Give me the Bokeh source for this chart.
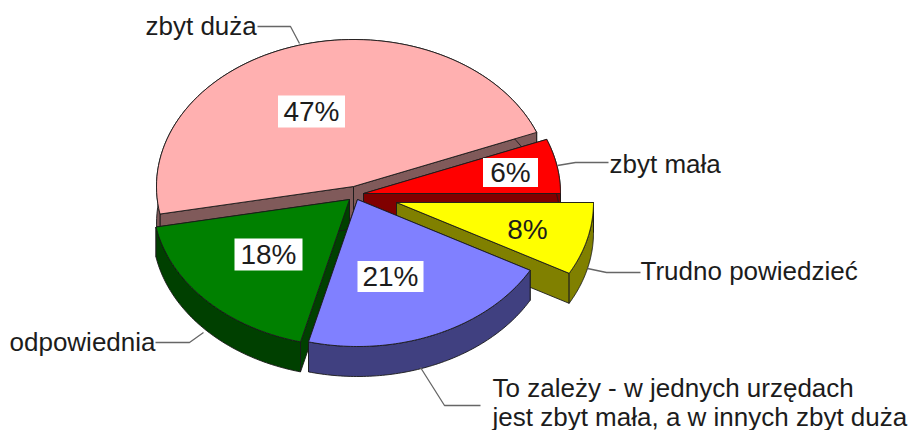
import math
from bokeh.plotting import figure
from bokeh.models import Range1d
from bokeh.core.properties import value
from bokeh.embed import file_html
from bokeh.resources import INLINE

# --- data -----------------------------------------------------------------
slices = ["zbyt mała", "Trudno powiedzieć", "To zależy", "odpowiednia", "zbyt duża"]
values = [6, 8, 21, 18, 47]

# --- style ----------------------------------------------------------------
top_colors = ["#FF0000", "#FFFF00", "#8080FF", "#008000", "#FFB0B0"]
side_colors = ["#800000", "#808000", "#404080", "#004000", "#805A5A"]
apex_x = [363, 396, 357, 349, 353]
apex_y = [193, 202, 199, 199, 186]
depths = [30, 30, 30, 30, 37]
draw_order = [4, 0, 1, 3, 2]
START_DEG = 21.6
RX, RY = 197, 147
EDGE = "#1a1a1a"
FONT = value("Liberation Sans")
TXT = "#1c1c1c"

p = figure(width=908, height=430, x_range=Range1d(0, 908), y_range=Range1d(430, 0),
           toolbar_location=None, output_backend="svg", min_border=0,
           outline_line_color=None, background_fill_color="white")
p.axis.visible = False
p.grid.visible = False

# slice angles from the values
bounds = [START_DEG]
for v in values:
    bounds.append(bounds[-1] - v / sum(values) * 360)


def arc(cx, cy, a0, a1, dy=0, n=80):
    pts = []
    for i in range(n + 1):
        a = math.radians(a0 + (a1 - a0) * i / n)
        pts.append((cx + RX * math.cos(a), cy - RY * math.sin(a) + dy))
    return pts


def poly(pts, fill):
    p.patch([q[0] for q in pts], [q[1] for q in pts], fill_color=fill,
            line_color=EDGE, line_width=0.9, line_join="round")


for i in draw_order:
    cx, cy, d = apex_x[i], apex_y[i], depths[i]
    a0, a1 = bounds[i], bounds[i + 1]
    top = arc(cx, cy, a0, a1)
    low = arc(cx, cy, a0, a1, d)
    for end in (top[0], top[-1]):
        poly([(cx, cy), end, (end[0], end[1] + d), (cx, cy + d)], side_colors[i])
    poly(top + low[::-1], side_colors[i])
    poly([(cx, cy)] + top, top_colors[i])

# value labels
pct_x = [510, 527, 390, 268, 311]
pct_y = [172, 229, 276, 254, 111]
box_w = [55, 0, 66, 68, 67]
box_h = [29, 0, 31, 32, 32]
for x, y, w, h in zip(pct_x, pct_y, box_w, box_h):
    if w:
        p.rect([x], [y], width=w, height=h, fill_color="white", line_color=None)
p.text(pct_x, pct_y, text=[f"{v}%" for v in values], text_font=FONT, text_font_size="28px",
       text_align="center", text_baseline="middle", text_color=TXT)

# leader lines
leaders = [
    ([608, 575, 557], [162, 162, 165]),
    ([640, 606, 587], [272, 272, 268]),
    ([480, 444, 420], [405, 405, 367]),
    ([155, 189, 203], [342, 342, 332]),
    ([257, 290, 299], [26, 26, 43]),
]
for lx, ly in leaders:
    p.line(lx, ly, line_color="#666666", line_width=1.3)

# category labels
cat_text = ["zbyt duża", "zbyt mała", "Trudno powiedzieć", "odpowiednia",
            "To zależy - w jednych urzędach", "jest zbyt mała, a w innych zbyt duża"]
cat_x = [145, 609, 640, 9, 492, 492]
cat_y = [25, 163, 270, 341, 387, 416]
p.text(cat_x, cat_y, text=cat_text, text_font=FONT, text_font_size="26px",
       text_align="left", text_baseline="alphabetic", text_color=TXT)

open("out.html", "w").write(file_html(p, INLINE))
